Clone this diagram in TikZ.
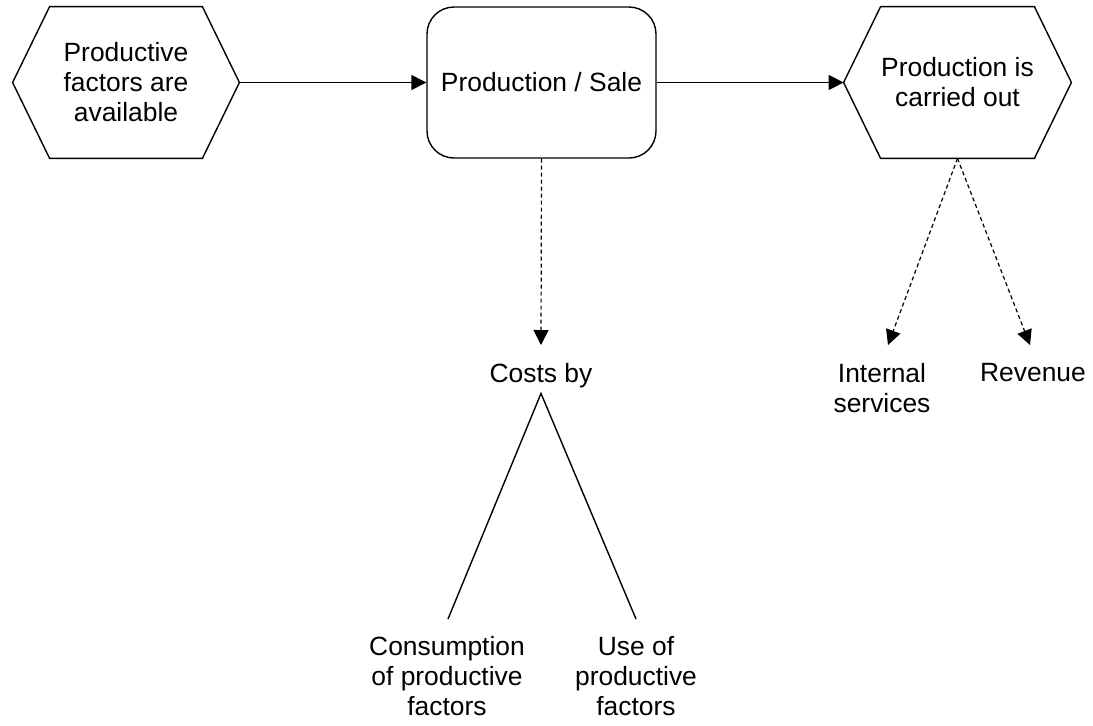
\documentclass[tikz,border=0pt]{standalone}
\usepackage{fontspec}
\setmainfont{Liberation Sans}
\usetikzlibrary{arrows.meta}
\begin{document}
\begin{tikzpicture}[x=0.5pt,y=-0.5pt,
		every node/.style={font=\fontsize{13.2}{15}\selectfont, align=center, inner sep=2.5pt},
		hexbox/.style={minimum width=113pt, minimum height=75.5pt, inner sep=0pt},
		procbox/.style={draw, line width=0.7pt, rounded corners=13.5pt, minimum width=114.5pt, minimum height=75.5pt},
		flow/.style={-{Triangle[length=7.5pt,width=7.5pt]}, line width=0.7pt},
		link/.style={-{Triangle[length=7.5pt,width=7.5pt]}, line width=0.6pt, dash pattern=on 2pt off 1.5pt}]
		\useasboundingbox (0,0) rectangle (1093,725);
		\node[hexbox] (avail) at (126,82.5) {Productive\\factors are\\available};
		\node[procbox] (sale) at (541.5,82.5) {Production / Sale};
		\node[hexbox, minimum width=113.5pt] (done) at (957.5,82.5) {Production is\\carried out};
		\foreach \n in {avail,done}
			\draw[line width=0.7pt] (\n.west) -- ([xshift=18.5pt]\n.north west) -- ([xshift=-18.5pt]\n.north east)
				-- (\n.east) -- ([xshift=-18.5pt]\n.south east) -- ([xshift=18.5pt]\n.south west) -- cycle;
		\node[anchor=north] (costs) at (541,358) {Costs by};
		\node[anchor=north] (cons) at (447,631) {Consumption\\of productive\\factors};
		\node[anchor=north] (use) at (636,631) {Use of\\productive\\factors};
		\node[anchor=north] (intsvc) at (882,358) {Internal\\services};
		\node[anchor=north] (rev) at (1033,358) {Revenue};
		\draw[flow] (avail.east) -- (sale.west);
		\draw[flow] (sale.east) -- (done.west);
		\draw[link] (sale.south) -- ([yshift=6.5pt]costs.north);
		\draw[link] (done.south) -- ([xshift=3pt,yshift=6.5pt]intsvc.north);
		\draw[link] (done.south) -- ([xshift=-1.5pt,yshift=6.5pt]rev.north);
		\draw[line width=0.7pt] ([xshift=0.5pt,yshift=6pt]cons.north) -- (costs.south) -- ([yshift=6pt]use.north);
\end{tikzpicture}
\end{document}
